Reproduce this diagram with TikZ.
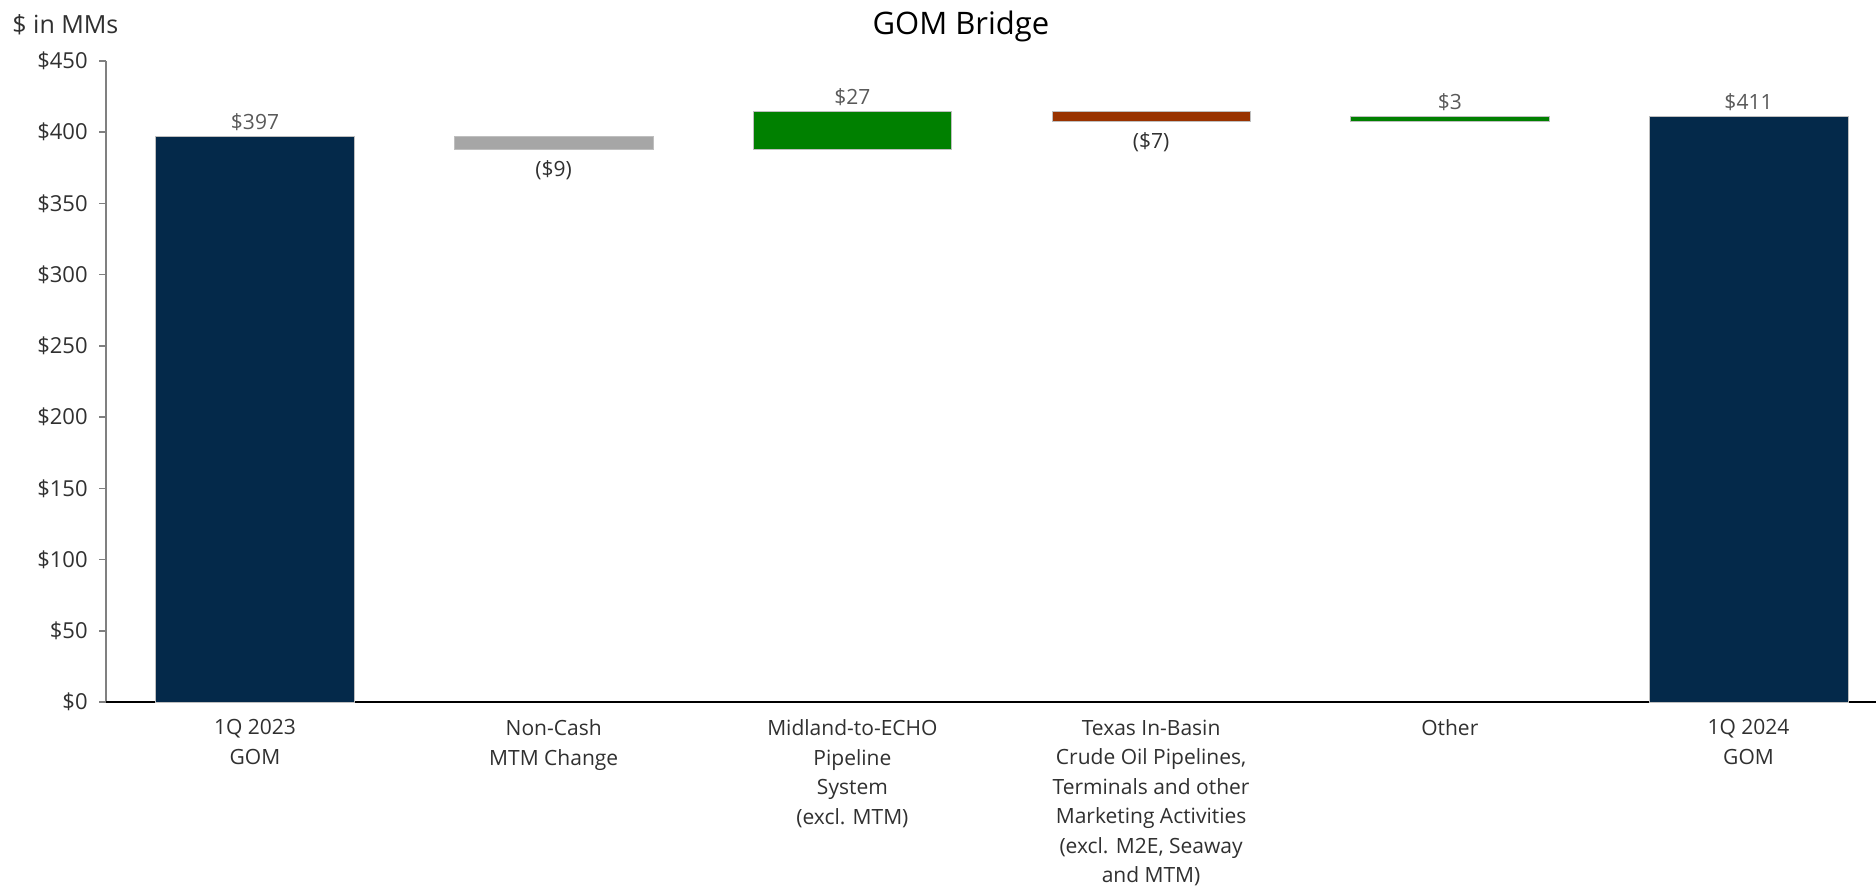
\documentclass[tikz,border=0pt]{standalone}
\usepackage{fontspec}
\setmainfont{Open Sans}
\usepackage{tikz}
\usetikzlibrary{positioning}
\definecolor{gomnavy}{HTML}{04294A}
\definecolor{mtmgray}{HTML}{A6A6A6}
\definecolor{upgreen}{HTML}{008000}
\definecolor{downbrown}{HTML}{993300}
\definecolor{valgray}{HTML}{595959}
\definecolor{axisgray}{HTML}{808080}
\definecolor{textdark}{HTML}{303030}

\tikzset{
  barline/.style={draw=white!75!black, line width=0.3pt},
  ticklabel/.style={anchor=east, inner sep=0pt, text=textdark, font=\fontsize{11}{13}\selectfont},
  catlabel/.style={anchor=north, align=center, inner sep=0pt, yshift=-8.6pt, text=textdark, font=\fontsize{10.5}{14.75}\selectfont},
  uplabel/.style={inner sep=0pt, yshift=7pt, text=valgray, font=\fontsize{10.5}{12}\selectfont},
  downlabel/.style={inner sep=0pt, yshift=-10.5pt, text=textdark, font=\fontsize{10.5}{12}\selectfont}
}

\begin{document}
\begin{tikzpicture}[x=0.5pt, y=0.5pt]
                    \useasboundingbox (0,0) rectangle (1876,893);
                    \node[text=black, font=\fontsize{15.5}{18}\selectfont] (title) at (961,867) {GOM Bridge};
                    \node[anchor=west, inner sep=0pt, text=textdark, font=\fontsize{12.5}{15}\selectfont] (unit) at (12,868) {\$ in MMs};
                    \begin{scope}[shift={(0,191)}, y=0.7122pt]
                    % axes
                    \draw[axisgray, line width=0.8pt] (106,0) -- (106,450);
                    \foreach \v in {0,50,...,450} {
                        \draw[axisgray, line width=0.8pt] (99,\v) -- (106,\v);
                        \node[ticklabel] (tick\v) at (88,\v) {\$\v};
                    }
                    \draw[black, line width=0.8pt] (106,0) -- (1876,0);
                    % bars
                    \fill[gomnavy, barline] (155.7,0) rectangle ++(198.6,397);
                    \fill[mtmgray, barline] (454.4,388) rectangle ++(198.6,9);
                    \fill[upgreen, barline] (753.1,388) rectangle ++(198.6,27);
                    \fill[downbrown, barline] (1051.8,408) rectangle ++(198.6,7);
                    \fill[upgreen, barline] (1350.5,408) rectangle ++(198.6,3);
                    \fill[gomnavy, barline] (1649.2,0) rectangle ++(198.6,411);
                    % values
                    \node[uplabel] (val1) at (255,397) {\$397};
                    \node[downlabel] (val2) at (553.7,388) {(\$9)};
                    \node[uplabel] (val3) at (852.4,415) {\$27};
                    \node[downlabel] (val4) at (1151.1,408) {(\$7)};
                    \node[uplabel] (val5) at (1449.8,411) {\$3};
                    \node[uplabel] (val6) at (1748.5,411) {\$411};
                    % categories
                    \node[catlabel] (cat1) at (255,0) {1Q 2023\\GOM};
                    \node[catlabel] (cat2) at (553.7,0) {Non-Cash\\MTM Change};
                    \node[catlabel] (cat3) at (852.4,0) {Midland-to-ECHO\\Pipeline\\System\\(excl. MTM)};
                    \node[catlabel] (cat4) at (1151.1,0) {Texas In-Basin\\Crude Oil Pipelines,\\Terminals and other\\Marketing Activities\\(excl. M2E, Seaway\\and MTM)};
                    \node[catlabel] (cat5) at (1449.8,0) {Other};
                    \node[catlabel] (cat6) at (1748.5,0) {1Q 2024\\GOM};
                    \end{scope}
                \end{tikzpicture}
\end{document}
